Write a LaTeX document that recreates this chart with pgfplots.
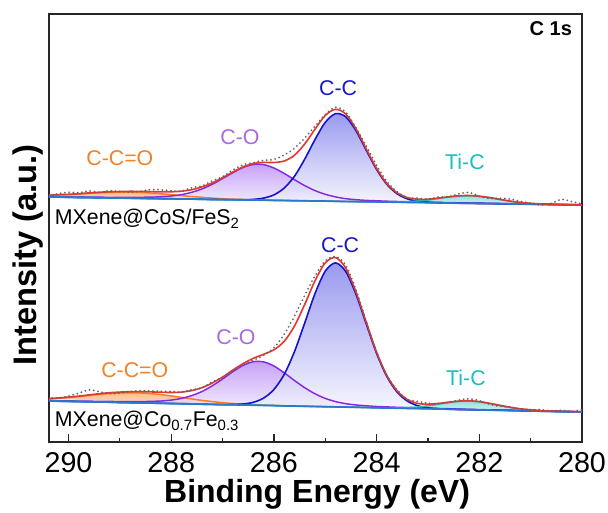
\documentclass[border=0pt]{standalone}
\usepackage{fontspec}
\setmainfont{Liberation Sans}
\usepackage{pgfplots}
\usepackage{pgfplotstable}
\pgfplotsset{compat=1.18}

\definecolor{ccline}{RGB}{20,20,205}
\definecolor{cctop}{RGB}{120,120,235}
\definecolor{ccbot}{RGB}{245,245,253}
\definecolor{coline}{RGB}{135,40,225}
\definecolor{cotop}{RGB}{180,130,245}
\definecolor{cobot}{RGB}{242,235,252}
\definecolor{ccoline}{RGB}{245,125,30}
\definecolor{ccofill}{RGB}{250,180,125}
\definecolor{ticline}{RGB}{30,190,195}
\definecolor{ticfill}{RGB}{130,218,218}
\definecolor{envline}{RGB}{228,55,45}
\definecolor{bgline}{RGB}{40,120,210}
\definecolor{datacol}{RGB}{100,100,100}
\definecolor{colabel}{RGB}{170,105,225}
\definecolor{cclabel}{RGB}{25,25,200}
\definecolor{ticlabel}{RGB}{25,190,195}
\definecolor{ccolabel}{RGB}{240,130,40}

% top spectrum: MXene@CoS/FeS2 (components as heights above the baseline)
\pgfplotstableread{
E base cc co cco tic dev
290.4 245.0 0 0.3 1.4 0 0
290.2 244.9 0 0.4 2.0 0 1
290.0 244.7 0 0.4 2.6 0 2
289.8 244.5 0 0.4 3.4 0 1
289.6 244.4 0 0.5 4.2 0 2
289.4 244.2 0 0.6 4.9 0 0
289.2 244.1 0 0.6 5.5 0 1
289.0 243.9 0 0.7 5.9 0 0
288.8 243.8 0 0.9 6.0 0 -1
288.6 243.6 0 1.1 5.9 0 0
288.4 243.5 0 1.4 5.5 0 2
288.2 243.3 0 1.9 4.9 0 2
288.0 243.2 0 2.8 4.2 0 1
287.8 243.0 0 4.4 3.4 0 0
287.6 242.9 0 6.8 2.6 0 2
287.4 242.7 0 10.4 2.0 0 1
287.2 242.5 0 15.2 1.4 0 2
287.0 242.4 0 21.0 0.9 0 1
286.8 242.2 0.1 27.1 0.6 0 2
286.6 242.1 0.2 32.4 0.4 0 2
286.4 241.9 0.7 35.6 0.2 0 1
286.2 241.8 2.1 35.6 0.1 0 2
286.0 241.6 5.5 32.4 0 0 3
285.8 241.5 12.4 27.1 0 0 6
285.6 241.3 24.4 21.0 0 0 7
285.4 241.2 41.6 15.2 0 0 6
285.2 241.0 61.4 10.4 0 0 3
285.0 240.9 78.8 6.8 0 0 1
284.8 240.7 87.6 4.4 0 0 2
284.6 240.5 84.6 2.8 0 0 2
284.4 240.4 70.8 1.9 0 0 1
284.2 240.2 51.4 1.4 0 0 3
284.0 240.1 32.4 1.1 0 0 3
283.8 239.9 17.7 0.9 0 0 2
283.6 239.8 8.4 0.7 0 0.3 1
283.4 239.6 3.5 0.6 0 0.7 0
283.2 239.5 1.2 0.6 0 1.5 1
283.0 239.3 0.4 0.5 0 2.6 0
282.8 239.2 0.1 0.4 0 4.2 1
282.6 239.0 0 0.4 0 5.8 0
282.4 238.8 0 0.4 0 7.0 2
282.2 238.7 0 0.3 0 7.5 3
282.0 238.5 0 0.3 0 7.0 0
281.8 238.4 0 0.3 0 5.8 -1
281.6 238.2 0 0.3 0 4.2 1
281.4 238.1 0 0.2 0 2.6 2
281.2 237.9 0 0.2 0 1.5 1
281.0 237.8 0 0.2 0 0.7 0
280.8 237.6 0 0.2 0 0.3 -1
280.6 237.5 0 0.2 0 0 1
280.4 237.3 0 0.2 0 0 5
280.2 237.2 0 0.2 0 0 3
280.0 237.0 0 0.2 0 0 1
}\topT

% bottom spectrum: MXene@Co0.7Fe0.3
\pgfplotstableread{
E base cc co cco tic dev
290.4 41.0 0 0.4 1.9 0 1
290.2 40.8 0 0.4 2.8 0 0
290.0 40.6 0 0.5 3.8 0 1
289.8 40.4 0 0.5 5.0 0 3
289.6 40.2 0 0.6 6.3 0 5
289.4 40.0 0 0.7 7.6 0 2
289.2 39.8 0 0.8 8.7 0 -1
289.0 39.5 0 0.9 9.5 0 -1
288.8 39.3 0 1.1 9.9 0 0
288.6 39.1 0 1.3 9.9 0 1
288.4 38.9 0 1.7 9.5 0 1
288.2 38.7 0 2.3 8.7 0 1
288.0 38.5 0 3.4 7.6 0 1
287.8 38.3 0 5.3 6.3 0 0
287.6 38.1 0 8.3 5.0 0 1
287.4 37.8 0 12.7 3.8 0 0
287.2 37.6 0 18.6 2.8 0 1
287.0 37.4 0 25.6 1.9 0 0
286.8 37.2 0.3 33.1 1.3 0 -1
286.6 37.0 1.0 39.6 0.8 0 -1
286.4 36.8 2.9 43.5 0.5 0 -2
286.2 36.6 7.3 43.5 0.3 0 -1
286.0 36.4 16.1 39.6 0.1 0 2
285.8 36.1 31.4 33.1 0 0 7
285.6 35.9 54.4 25.6 0 0 10
285.4 35.7 83.3 18.6 0 0 9
285.2 35.5 112.9 12.7 0 0 5
285.0 35.3 135.5 8.3 0 0 2
284.8 35.1 144.0 5.3 0 0 1
284.6 34.9 135.5 3.4 0 0 3
284.4 34.7 112.9 2.3 0 0 2
284.2 34.5 83.3 1.7 0 0 1
284.0 34.2 54.4 1.3 0 0 0
283.8 34.0 31.4 1.1 0 0 0
283.6 33.8 16.1 0.9 0 0.3 1
283.4 33.6 7.3 0.8 0 0.8 0
283.2 33.4 2.9 0.7 0 1.6 2
283.0 33.2 1.0 0.6 0 3.0 1
282.8 33.0 0.3 0.5 0 4.7 0
282.6 32.8 0 0.5 0 6.5 0
282.4 32.5 0 0.4 0 8.0 1
282.2 32.3 0 0.4 0 8.5 2
282.0 32.1 0 0.3 0 8.0 1
281.8 31.9 0 0.3 0 6.5 -1
281.6 31.7 0 0.3 0 4.7 -1
281.4 31.5 0 0.3 0 3.0 0
281.2 31.3 0 0.3 0 1.6 0
281.0 31.1 0 0.3 0 0.8 0
280.8 30.8 0 0.3 0 0.3 1
280.6 30.6 0 0.3 0 0 0
280.4 30.4 0 0.3 0 0 1
280.2 30.2 0 0.3 0 0 0
280.0 30.0 0 0.3 0 0 2
}\botT

\newcommand{\spectrum}[1]{%
\addplot[draw=none, smooth, top color=ccofill, bottom color=ccofill!35, fill opacity=0.85] table[x=E,y expr=\thisrow{base}+\thisrow{cco}]{#1} -- cycle;
\addplot[draw=none, smooth, top color=cotop, bottom color=cobot, fill opacity=0.75] table[x=E,y expr=\thisrow{base}+\thisrow{co}]{#1} -- cycle;
\addplot[draw=none, smooth, top color=cctop, bottom color=ccbot, fill opacity=0.75] table[x=E,y expr=\thisrow{base}+\thisrow{cc}]{#1} -- cycle;
\addplot[draw=none, smooth, top color=ticfill, bottom color=ticfill!35, fill opacity=0.85] table[x=E,y expr=\thisrow{base}+\thisrow{tic}]{#1} -- cycle;
\addplot[ccoline, line width=1.1pt, smooth] table[x=E,y expr=\thisrow{base}+\thisrow{cco}]{#1};
\addplot[coline, line width=1.1pt, smooth] table[x=E,y expr=\thisrow{base}+\thisrow{co}]{#1};
\addplot[ccline, line width=1.2pt, smooth] table[x=E,y expr=\thisrow{base}+\thisrow{cc}]{#1};
\addplot[ticline, line width=1.1pt, smooth] table[x=E,y expr=\thisrow{base}+\thisrow{tic}]{#1};
\addplot[bgline, line width=1.3pt] table[x=E,y=base]{#1};
\addplot[envline, line width=1.2pt, smooth] table[x=E,y expr=\thisrow{base}+\thisrow{cc}+\thisrow{co}+\thisrow{cco}+\thisrow{tic}]{#1};
\addplot[datacol, line width=1.5pt, dash pattern=on 0pt off 3.2pt, line cap=round, smooth] table[x=E,y expr=\thisrow{base}+\thisrow{cc}+\thisrow{co}+\thisrow{cco}+\thisrow{tic}+\thisrow{dev}]{#1};
}

\begin{document}
\begin{tikzpicture}
\useasboundingbox (-36.75pt,-53.25pt) rectangle (419.25pt,331.5pt);
\begin{axis}[
  at={(0,0)}, anchor=south west,
  width=399.75pt, height=321pt, scale only axis,
  x dir=reverse, xmin=280, xmax=290.38, ymin=0, ymax=428,
  axis line style={line width=1pt, black!85},
  xtick={280,282,...,290}, minor xtick={281,283,...,289},
  tick align=inside, tick pos=left, ytick=\empty,
  major tick length=6pt, minor tick length=3pt,
  every tick/.style={black!85, line width=0.9pt},
  /pgf/number format/assume math mode=true,
  xticklabel style={font=\fontsize{21.5}{21.5}\selectfont, anchor=base, inner sep=0pt, yshift=-23.25pt},
  xlabel={Binding Energy (eV)},
  xlabel style={font=\bfseries\fontsize{24}{24}\selectfont, inner sep=0pt, at={(axis description cs:0.503,-0.1405)}, anchor=base},
  ylabel={Intensity (a.u.)},
  ylabel style={font=\bfseries\fontsize{24.5}{24.5}\selectfont, inner sep=0pt, at={(axis description cs:-0.0394,0.437)}, anchor=center},
]
\spectrum{\topT}
\spectrum{\botT}

\node[font=\bfseries\fontsize{15}{15}\selectfont, anchor=east, inner sep=0pt] at (axis cs:280.19,413.5) {C 1s};
\node[font=\fontsize{16}{16}\selectfont, text=ccolabel] at (axis cs:289.0,284) {C-C=O};
\node[font=\fontsize{16}{16}\selectfont, text=colabel] at (axis cs:286.66,305) {C-O};
\node[font=\fontsize{16}{16}\selectfont, text=cclabel] at (axis cs:284.75,354) {C-C};
\node[font=\fontsize{16}{16}\selectfont, text=ticlabel] at (axis cs:282.28,280) {Ti-C};
\node[font=\fontsize{16}{16}\selectfont, anchor=base west, inner sep=0pt] at (axis cs:290.27,217) {MXene@CoS/FeS\textsubscript{2}};

\node[font=\fontsize{16}{16}\selectfont, text=ccolabel] at (axis cs:288.71,72) {C-C=O};
\node[font=\fontsize{16}{16}\selectfont, text=colabel] at (axis cs:286.74,105) {C-O};
\node[font=\fontsize{16}{16}\selectfont, text=cclabel] at (axis cs:284.71,197) {C-C};
\node[font=\fontsize{16}{16}\selectfont, text=ticlabel] at (axis cs:282.26,64) {Ti-C};
\node[font=\fontsize{16}{16}\selectfont, anchor=base west, inner sep=0pt] at (axis cs:290.27,15) {MXene@Co\textsubscript{0.7}Fe\textsubscript{0.3}};
\end{axis}
\end{tikzpicture}
\end{document}
